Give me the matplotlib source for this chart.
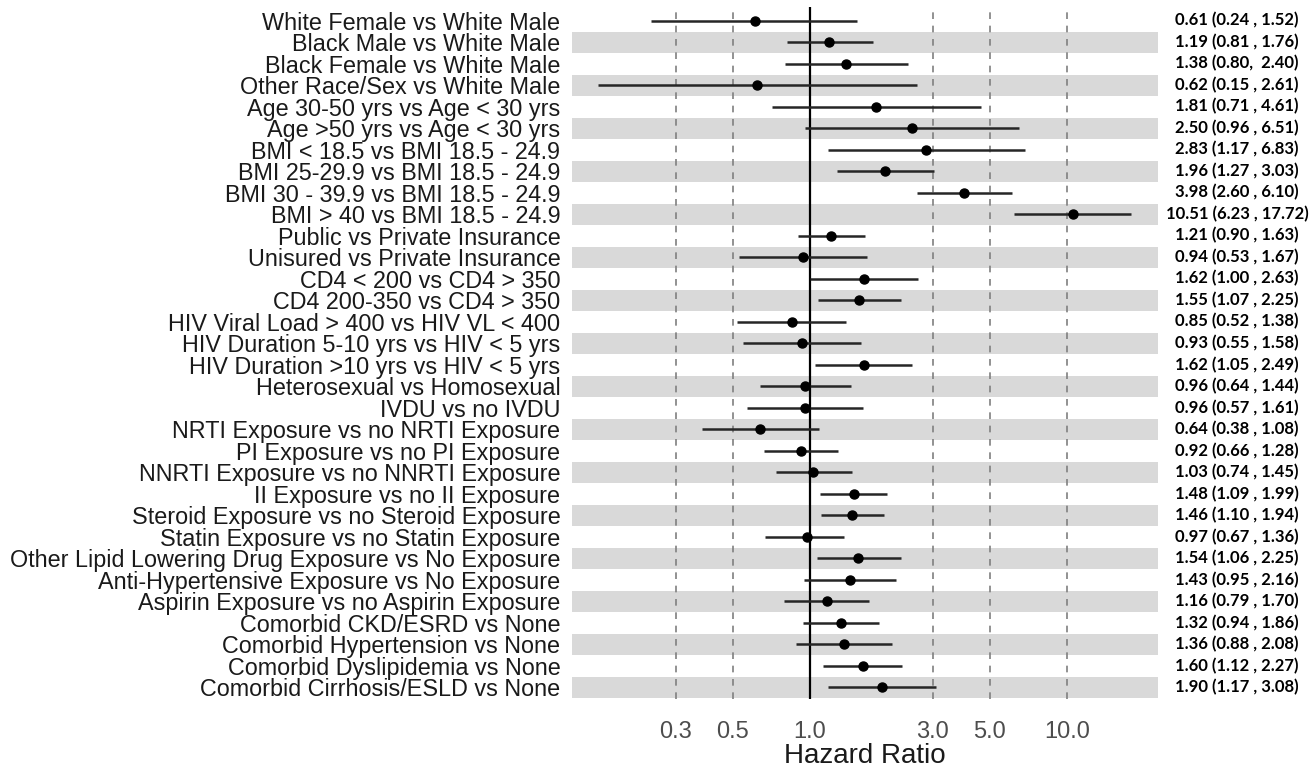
import matplotlib
matplotlib.use('Agg')
import matplotlib.pyplot as plt
import matplotlib.transforms as mtransforms
import numpy as np

# comparisons, top to bottom
labels = [
    'White Female vs White Male',
    'Black Male vs White Male',
    'Black Female vs White Male',
    'Other Race/Sex vs White Male',
    'Age 30-50 yrs vs Age < 30 yrs',
    'Age >50 yrs vs Age < 30 yrs',
    'BMI < 18.5 vs BMI 18.5 - 24.9',
    'BMI 25-29.9 vs BMI 18.5 - 24.9',
    'BMI 30 - 39.9 vs BMI 18.5 - 24.9',
    'BMI > 40 vs BMI 18.5 - 24.9',
    'Public vs Private Insurance',
    'Unisured vs Private Insurance',
    'CD4 < 200 vs CD4 > 350',
    'CD4 200-350 vs CD4 > 350',
    'HIV Viral Load > 400 vs HIV VL < 400',
    'HIV Duration 5-10 yrs vs HIV < 5 yrs',
    'HIV Duration >10 yrs vs HIV < 5 yrs',
    'Heterosexual vs Homosexual',
    'IVDU vs no IVDU',
    'NRTI Exposure vs no NRTI Exposure',
    'PI Exposure vs no PI Exposure',
    'NNRTI Exposure vs no NNRTI Exposure',
    'II Exposure vs no II Exposure',
    'Steroid Exposure vs no Steroid Exposure',
    'Statin Exposure vs no Statin Exposure',
    'Other Lipid Lowering Drug Exposure vs No Exposure',
    'Anti-Hypertensive Exposure vs No Exposure',
    'Aspirin Exposure vs no Aspirin Exposure',
    'Comorbid CKD/ESRD vs None',
    'Comorbid Hypertension vs None',
    'Comorbid Dyslipidemia vs None',
    'Comorbid Cirrhosis/ESLD vs None',
]

hr = [0.61, 1.19, 1.38, 0.62, 1.81, 2.50, 2.83, 1.96, 3.98, 10.51,
      1.21, 0.94, 1.62, 1.55, 0.85, 0.93, 1.62, 0.96, 0.96, 0.64,
      0.92, 1.03, 1.48, 1.46, 0.97, 1.54, 1.43, 1.16, 1.32, 1.36,
      1.60, 1.90]
lo = [0.24, 0.81, 0.80, 0.15, 0.71, 0.96, 1.17, 1.27, 2.60, 6.23,
      0.90, 0.53, 1.00, 1.07, 0.52, 0.55, 1.05, 0.64, 0.57, 0.38,
      0.66, 0.74, 1.09, 1.10, 0.67, 1.06, 0.95, 0.79, 0.94, 0.88,
      1.12, 1.17]
hi = [1.52, 1.76, 2.40, 2.61, 4.61, 6.51, 6.83, 3.03, 6.10, 17.72,
      1.63, 1.67, 2.63, 2.25, 1.38, 1.58, 2.49, 1.44, 1.61, 1.08,
      1.28, 1.45, 1.99, 1.94, 1.36, 2.25, 2.16, 1.70, 1.86, 2.08,
      2.27, 3.08]

xticks = [0.3, 0.5, 1.0, 3.0, 5.0, 10.0]

ci_text = ['%.2f (%.2f , %.2f)' % (h, l, u) for h, l, u in zip(hr, lo, hi)]
ci_text[2] = '1.38 (0.80,  2.40)'

n = len(labels)
ypos = np.arange(1, n + 1)

fig = plt.figure(figsize=(13.14, 7.70), dpi=100)
ax = fig.add_axes([0.435, 0.0922, 0.446, 0.8987])

# shaded bands on every other row
for i, y in enumerate(ypos):
    if i % 2 == 1:
        ax.axhspan(y - 0.49, y + 0.49, color='#d9d9d9', lw=0, zorder=0)

for t in [0.3, 0.5, 3.0, 5.0, 10.0]:
    ax.axvline(t, color='#7f7f7f', lw=1.2, ls=(0, (4, 4)), zorder=1)
ax.axvline(1.0, color='black', lw=1.6, zorder=2)

ax.hlines(ypos, lo, hi, color='#262626', lw=1.8, zorder=3)
ax.plot(hr, ypos, 'o', color='black', ms=6.5, zorder=4)

ax.set_xscale('log')
span = np.log10(max(hi)) - np.log10(min(lo))
ax.set_xlim(10 ** (np.log10(min(lo)) - 0.05 * span),
            10 ** (np.log10(max(hi)) + 0.05 * span))
ax.set_ylim(n + 0.55, 0.37)

ax.set_xticks(xticks)
ax.set_xticklabels(['%.1f' % t for t in xticks])
ax.xaxis.set_minor_locator(matplotlib.ticker.NullLocator())
ax.set_yticks(ypos)
ax.set_yticklabels(labels)
ax.tick_params(axis='y', length=0, pad=8, labelsize=16.8, labelcolor='#1a1a1a')
ax.tick_params(axis='x', length=0, pad=16, labelsize=17, labelcolor='#4d4d4d')
for lab in ax.get_yticklabels() + ax.get_xticklabels():
    lab.set_family('Liberation Sans')
ax.set_xlabel('Hazard Ratio', fontsize=20, family='Liberation Sans',
              color='#1a1a1a', labelpad=0)

for s in ax.spines.values():
    s.set_visible(False)

trans = mtransforms.blended_transform_factory(fig.transFigure, ax.transData)
for y, s in zip(ypos, ci_text):
    ax.text(1237 / 1314, y, s, transform=trans, ha='center', va='center',
            fontsize=12, fontweight='bold', family='Lato', color='black',
            clip_on=False)

fig.savefig('out.png', dpi=100)
